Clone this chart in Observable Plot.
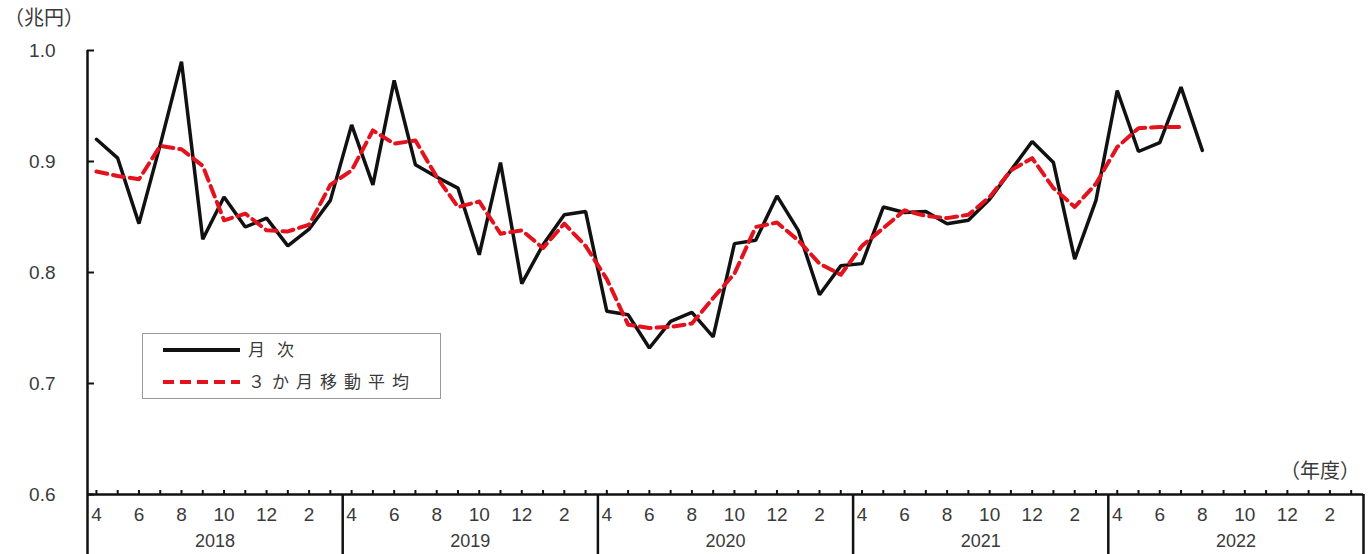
<!DOCTYPE html>
<html lang="ja">
<head>
<meta charset="utf-8">
<script src="https://cdn.jsdelivr.net/npm/d3@7"></script>
<script src="https://cdn.jsdelivr.net/npm/@observablehq/plot@0.6"></script>
<style>
  body { margin: 0; background: #fff; }
  #chart {
    position: relative; width: 1368px; height: 554px; overflow: hidden;
    font-family: "Noto Sans CJK JP", "Noto Sans", sans-serif; color: #3a3a3a;
  }
  #chart > svg.plot-main { position: absolute; left: 0; top: 0; }
  .unit { position: absolute; font-size: 20px; line-height: 1; white-space: nowrap; }
  #unit-y { left: 4px; top: 7px; }
  #unit-x { left: 1280px; top: 460px; }
  #chart > svg#legend { position: absolute; left: 142px; top: 333px; }
</style>
</head>
<body>
<div id="chart">
  <div class="unit" id="unit-y">（兆円）</div>
  <div class="unit" id="unit-x">（年度）</div>
  <svg id="legend" width="300" height="67"></svg>
</div>
<script>
// Fiscal years (April to March) and the month numbers within each one
const fiscalYears = [2018, 2019, 2020, 2021, 2022];
const monthNumbers = [4, 5, 6, 7, 8, 9, 10, 11, 12, 1, 2, 3];

// Monthly value (trillion yen), April 2018 – August 2022
const monthlyValues = [
  0.920, 0.903, 0.844, 0.915, 0.990, 0.830, 0.868, 0.841, 0.849, 0.824, 0.839, 0.865,
  0.933, 0.879, 0.973, 0.897, 0.886, 0.876, 0.816, 0.899, 0.790, 0.825, 0.852, 0.855,
  0.765, 0.762, 0.732, 0.756, 0.764, 0.742, 0.826, 0.829, 0.869, 0.838, 0.780, 0.806,
  0.808, 0.859, 0.854, 0.855, 0.844, 0.847, 0.866, 0.892, 0.918, 0.899, 0.812, 0.865,
  0.964, 0.909, 0.917, 0.967, 0.910
];

// Centred 3-month moving average, April 2018 – July 2022
const movingAverage = [
  0.891, 0.887, 0.884, 0.914, 0.911, 0.896, 0.847, 0.853, 0.838, 0.837, 0.843, 0.879,
  0.892, 0.928, 0.916, 0.919, 0.886, 0.859, 0.864, 0.835, 0.838, 0.822, 0.844, 0.824,
  0.794, 0.753, 0.750, 0.751, 0.754, 0.777, 0.799, 0.841, 0.845, 0.829, 0.808, 0.798,
  0.824, 0.840, 0.856, 0.851, 0.849, 0.852, 0.868, 0.892, 0.903, 0.876, 0.859, 0.880,
  0.913, 0.930, 0.931, 0.931
];

const yTicks = [0.6, 0.7, 0.8, 0.9, 1.0];

const monthCount = fiscalYears.length * 12;
const monthIndex = d3.range(monthCount);
const edgeOffset = 0.42;                       // year boundary sits just before each April
const xDomain = [-edgeOffset, monthCount - edgeOffset];
const yearBoundaries = d3.range(fiscalYears.length + 1).map(k => k * 12 - edgeOffset);
const yearCentres = fiscalYears.map((_, k) => k * 12 + 6 - edgeOffset);
const evenMonths = monthIndex.filter(i => monthNumbers[i % 12] % 2 === 0);

const monthlyRows = monthlyValues.map((v, i) => ({i, v}));
const averageRows = movingAverage.map((v, i) => ({i, v}));

const black = "#111";
const red = "#e3121c";
const textColor = "#3a3a3a";
const font = '"Noto Sans CJK JP", "Noto Sans", sans-serif';
const numberFont = '"Liberation Sans", Arial, sans-serif';

const chart = Plot.plot({
  className: "plot-main",
  width: 1368,
  height: 554,
  marginLeft: 87,
  marginRight: 5,
  marginTop: 50,
  marginBottom: 60,
  style: {fontFamily: numberFont, fontSize: "19px", color: textColor, background: "#fff"},
  x: {type: "linear", domain: xDomain, axis: null, label: null},
  y: {domain: [0.6, 1.0], axis: null, label: null},
  marks: [
    // y axis: labels, inward ticks, axis line
    Plot.axisY(yTicks, {anchor: "left", tickSize: 0, tickPadding: 0, dx: -32, tickFormat: d => d.toFixed(1),
      fontSize: 19, letterSpacing: 3, fill: textColor, label: null}),
    Plot.axisY(yTicks, {anchor: "left", tickSize: -7, tickFormat: () => "", strokeWidth: 2, stroke: black, label: null}),
    Plot.ruleX([xDomain[0]], {stroke: black, strokeWidth: 2.5}),
    // x axis line with small upward month ticks
    Plot.ruleY([0.6], {stroke: black, strokeWidth: 2.5}),
    Plot.axisX(monthIndex, {anchor: "bottom", tickSize: -4, tickFormat: () => "", strokeWidth: 2, stroke: black, label: null}),
    // fiscal-year separators running down through the label band
    Plot.axisX(yearBoundaries, {anchor: "bottom", tickSize: 62, tickFormat: () => "", strokeWidth: 2.5, stroke: black, label: null}),
    // month and fiscal-year labels
    Plot.axisX(evenMonths, {anchor: "bottom", tickSize: 0, tickPadding: 0, dy: 13, tickFormat: i => String(monthNumbers[i % 12]),
      fontSize: 19, letterSpacing: 1, fill: textColor, label: null}),
    Plot.axisX(yearCentres, {anchor: "bottom", tickSize: 0, tickPadding: 0, dy: 39.5, tickFormat: (_, k) => String(fiscalYears[k]),
      fontSize: 18, letterSpacing: 1.5, fill: textColor, label: null}),
    // series
    Plot.line(monthlyRows, {x: "i", y: "v", stroke: black, strokeWidth: 3.5, strokeLinejoin: "miter"}),
    Plot.line(averageRows, {x: "i", y: "v", stroke: red, strokeWidth: 4, strokeDasharray: "11,6"})
  ]
});
document.getElementById("chart").prepend(chart);

// Legend box
const legend = d3.select("#legend");
legend.append("rect").attr("x", 0.5).attr("y", 0.5).attr("width", 298).attr("height", 65)
  .attr("fill", "#fff").attr("stroke", "#999").attr("stroke-width", 1);
const legendItems = [
  {label: "月次", stroke: black, dash: null, spacing: 12},
  {label: "３か月移動平均", stroke: red, dash: "11,6", spacing: 7}
];
legendItems.forEach((item, k) => {
  const cy = 17 + k * 32;
  legend.append("line").attr("x1", 21).attr("x2", 98).attr("y1", cy).attr("y2", cy)
    .attr("stroke", item.stroke).attr("stroke-width", 4)
    .attr("stroke-dasharray", item.dash);
  legend.append("text").attr("x", 106).attr("y", cy).attr("dy", "0.36em")
    .attr("font-family", font).attr("font-size", 17)
    .attr("letter-spacing", item.spacing).attr("fill", textColor).text(item.label);
});
</script>
</body>
</html>
